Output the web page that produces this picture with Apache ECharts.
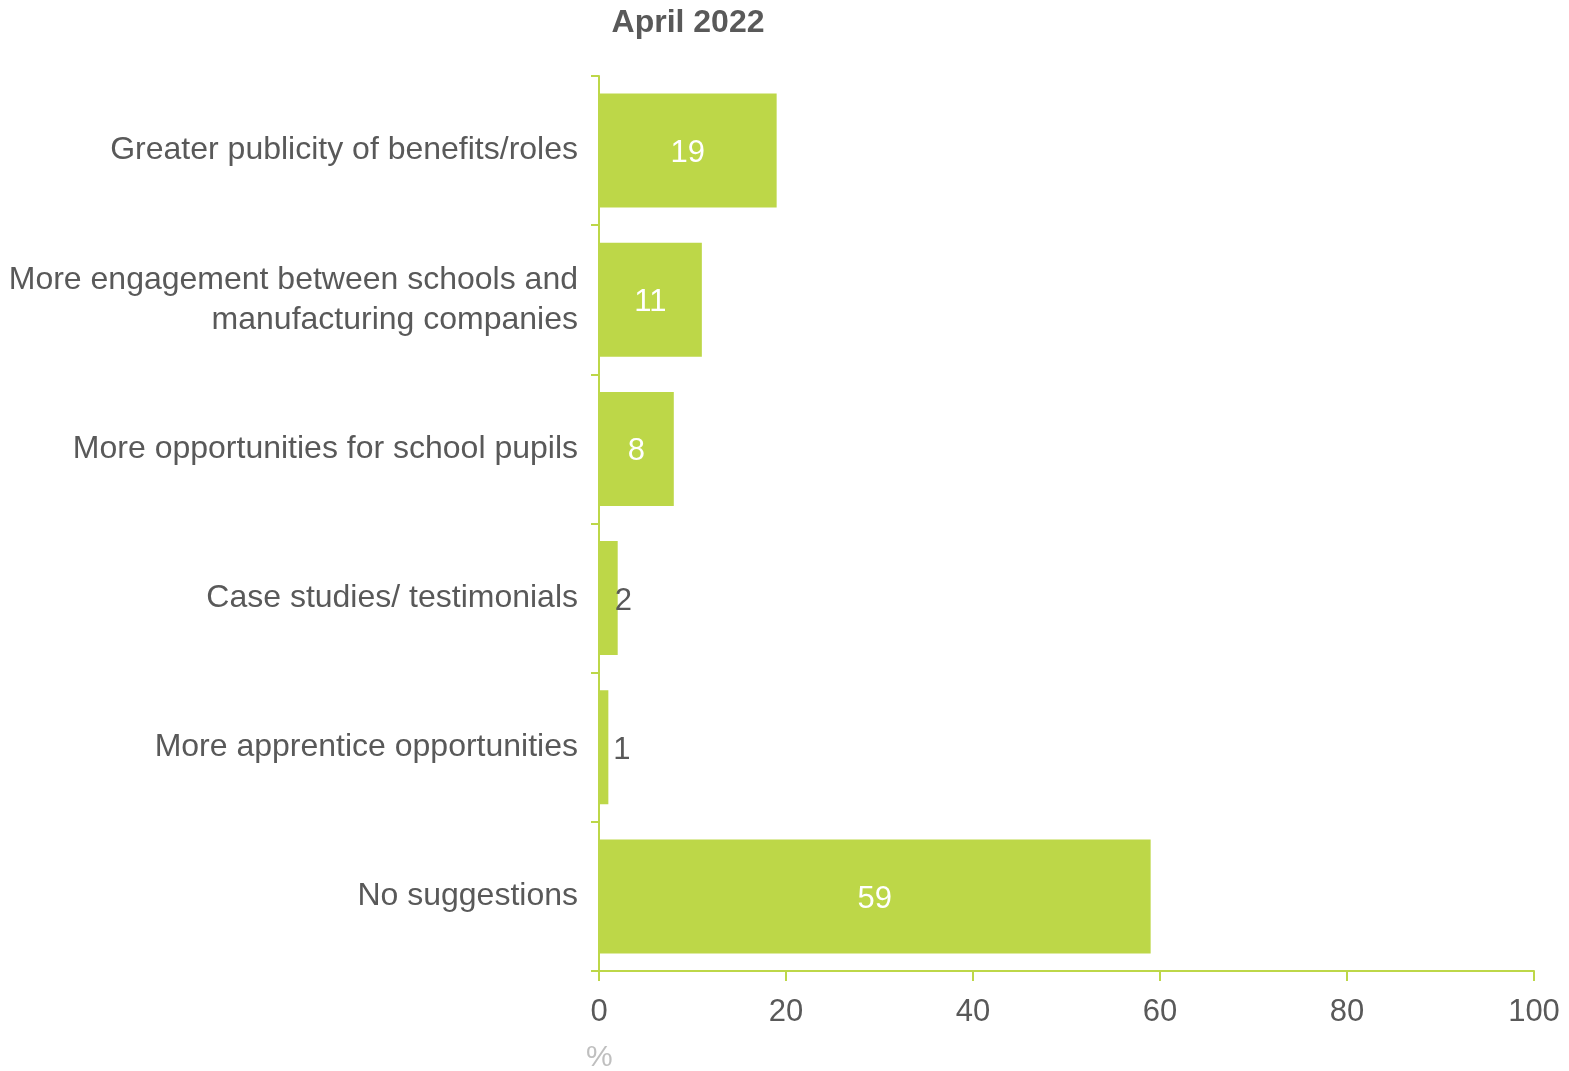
<!DOCTYPE html>
<html>
<head>
<meta charset="utf-8">
<script src="https://cdn.jsdelivr.net/npm/echarts@6/dist/echarts.min.js"></script>
<style>
html,body{margin:0;padding:0;background:#fff;}
#chart{width:1569px;height:1071px;}
</style>
</head>
<body>
<div id="chart"></div>
<script>
const categories = [
  "Greater publicity of benefits/roles",
  "More engagement between schools and\nmanufacturing companies",
  "More opportunities for school pupils",
  "Case studies/ testimonials",
  "More apprentice opportunities",
  "No suggestions"
];
const values = [19, 11, 8, 2, 1, 59];
const xTicks = [0, 20, 40, 60, 80, 100];
const titleText = "April 2022";
const unitText = "%";

const barColor = "#BDD748";
const textColor = "#595959";
const font = "Liberation Sans, Arial, sans-serif";

const chart = echarts.init(document.getElementById('chart'));
const seriesData = values.map(function (v) {
  const small = v < 5;
  return {
    value: v,
    label: small
      ? { position: 'right', distance: v === 1 ? 5 : -3, color: textColor }
      : { position: 'inside', color: '#ffffff' }
  };
});

chart.setOption({
  animation: false,
  backgroundColor: '#ffffff',
  title: {
    text: titleText,
    left: 683, top: 2, textAlign: 'center',
    textStyle: { fontFamily: font, fontSize: 32, fontWeight: 'bold', color: textColor }
  },
  grid: { left: 599, right: 35, top: 76, bottom: 100, containLabel: false },
  xAxis: {
    type: 'value',
    min: xTicks[0], max: xTicks[xTicks.length - 1], interval: 20,
    axisLine: { show: true, lineStyle: { color: barColor, width: 2 } },
    axisTick: { show: true, length: 10, lineStyle: { color: barColor, width: 2 } },
    axisLabel: { margin: 26, fontFamily: font, fontSize: 31, color: textColor },
    splitLine: { show: false }
  },
  yAxis: {
    type: 'category',
    inverse: true,
    data: categories,
    axisLine: { show: true, lineStyle: { color: barColor, width: 2 } },
    axisTick: { show: true, length: 8, inside: false, lineStyle: { color: barColor, width: 2 } },
    axisLabel: { margin: 21, fontFamily: font, fontSize: 32, color: textColor, lineHeight: 40, align: 'right' },
    splitLine: { show: false }
  },
  graphic: [{
    type: 'text', left: 586, top: 1043,
    style: { text: unitText, fontFamily: font, fontSize: 30, fill: '#BFBFBF' }
  }],
  series: [{
    type: 'bar',
    data: seriesData,
    barWidth: 114,
    itemStyle: { color: barColor },
    label: { show: true, fontFamily: font, fontSize: 31, offset: [0, 3] }
  }]
});
</script>
</body>
</html>
